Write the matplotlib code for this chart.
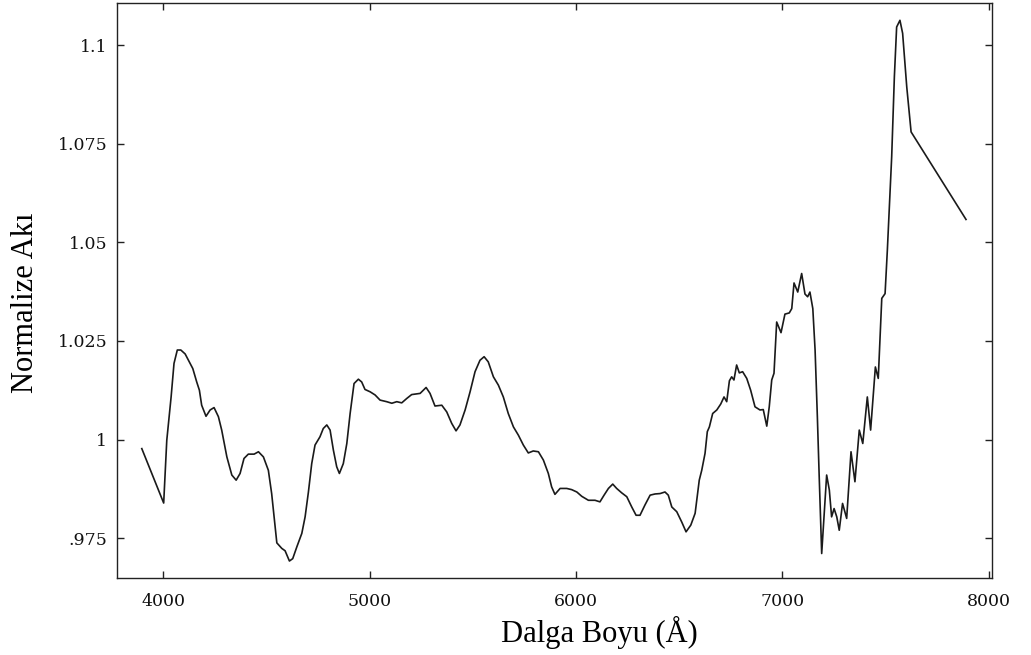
import matplotlib.pyplot as plt

# wavelength (Angstrom) and normalized flux
wave = [3897, 4003, 4018, 4039, 4053, 4069, 4086, 4107, 4127, 4144,
        4163, 4176, 4187, 4208, 4228, 4247, 4268, 4284, 4309, 4333,
        4354, 4373, 4392, 4413, 4441, 4462, 4486, 4510, 4526, 4538,
        4551, 4575, 4591, 4612, 4628, 4648, 4672, 4688, 4704, 4720,
        4736, 4760, 4776, 4793, 4809, 4825, 4841, 4854, 4873, 4890,
        4906, 4925, 4946, 4962, 4978, 5003, 5027, 5051, 5083, 5108,
        5132, 5156, 5180, 5204, 5245, 5274, 5293, 5317, 5350, 5374,
        5398, 5419, 5438, 5463, 5487, 5511, 5535, 5555, 5575, 5600,
        5624, 5648, 5672, 5697, 5721, 5745, 5769, 5793, 5818, 5842,
        5866, 5882, 5898, 5923, 5955, 5979, 6004, 6028, 6060, 6092,
        6116, 6136, 6157, 6178, 6197, 6221, 6246, 6270, 6291, 6310,
        6334, 6359, 6383, 6407, 6431, 6447, 6464, 6488, 6512, 6533,
        6556, 6577, 6597, 6609, 6625, 6636, 6646, 6662, 6682, 6701,
        6717, 6730, 6743, 6754, 6765, 6778, 6791, 6807, 6827, 6846,
        6867, 6891, 6907, 6924, 6936, 6948, 6959, 6972, 6993, 7012,
        7033, 7045, 7056, 7074, 7093, 7109, 7122, 7133, 7147, 7158,
        7169, 7178, 7190, 7201, 7214, 7227, 7238, 7250, 7263, 7275,
        7291, 7311, 7332, 7351, 7372, 7389, 7411, 7427, 7450, 7464,
        7481, 7497, 7508, 7529, 7542, 7553, 7569, 7582, 7602, 7623,
        7889]
flux = [0.9977, 0.9839, 0.9998, 1.0108, 1.0193, 1.0227, 1.0227, 1.0217, 1.0197, 1.0180,
        1.0146, 1.0125, 1.0087, 1.0059, 1.0075, 1.0081, 1.0058, 1.0024, 0.9956, 0.9910,
        0.9897, 0.9914, 0.9952, 0.9963, 0.9963, 0.9969, 0.9956, 0.9922, 0.9863, 0.9804,
        0.9738, 0.9724, 0.9718, 0.9692, 0.9698, 0.9728, 0.9762, 0.9804, 0.9867, 0.9939,
        0.9986, 1.0007, 1.0028, 1.0037, 1.0024, 0.9973, 0.9931, 0.9914, 0.9939, 0.9990,
        1.0066, 1.0142, 1.0153, 1.0146, 1.0127, 1.0121, 1.0113, 1.0100, 1.0096, 1.0092,
        1.0096, 1.0093, 1.0104, 1.0114, 1.0117, 1.0132, 1.0117, 1.0085, 1.0087, 1.0070,
        1.0041, 1.0022, 1.0037, 1.0075, 1.0121, 1.0172, 1.0201, 1.0210, 1.0197, 1.0159,
        1.0138, 1.0108, 1.0066, 1.0032, 1.0011, 0.9986, 0.9966, 0.9971, 0.9969, 0.9948,
        0.9914, 0.9880, 0.9861, 0.9876, 0.9876, 0.9873, 0.9867, 0.9856, 0.9846, 0.9846,
        0.9842, 0.9859, 0.9876, 0.9887, 0.9876, 0.9865, 0.9855, 0.9829, 0.9808, 0.9808,
        0.9834, 0.9859, 0.9862, 0.9863, 0.9867, 0.9859, 0.9829, 0.9817, 0.9791, 0.9766,
        0.9783, 0.9813, 0.9897, 0.9922, 0.9965, 1.0020, 1.0032, 1.0066, 1.0075, 1.0090,
        1.0108, 1.0096, 1.0149, 1.0159, 1.0151, 1.0189, 1.0169, 1.0172, 1.0155, 1.0125,
        1.0083, 1.0075, 1.0076, 1.0034, 1.0083, 1.0151, 1.0168, 1.0298, 1.0271, 1.0318,
        1.0321, 1.0332, 1.0397, 1.0374, 1.0421, 1.0369, 1.0362, 1.0374, 1.0332, 1.0227,
        1.0058, 0.9905, 0.9711, 0.9804, 0.9910, 0.9872, 0.9804, 0.9825, 0.9804, 0.9770,
        0.9838, 0.9800, 0.9969, 0.9893, 1.0024, 0.9990, 1.0108, 1.0024, 1.0184, 1.0155,
        1.0358, 1.0370, 1.0480, 1.0717, 1.0920, 1.1046, 1.1063, 1.1030, 1.0894, 1.0780,
        1.0558]

xticks = [4000, 5000, 6000, 7000, 8000]
yticks = [0.975, 1.0, 1.025, 1.05, 1.075, 1.1]
ytick_labels = ['.975', '1', '1.025', '1.05', '1.075', '1.1']

fig = plt.figure(figsize=(10.31, 6.55), dpi=100)
ax = fig.add_axes([0.1135, 0.1176, 0.8487, 0.8779])

ax.plot(wave, flux, color='#1a1a1a', linewidth=1.2, solid_joinstyle='round')

ax.set_xlim(3777, 8015)
ax.set_ylim(0.9649, 1.1107)
ax.set_xticks(xticks)
ax.set_xticklabels([str(t) for t in xticks], family='DejaVu Serif', fontsize=12.5)
ax.set_yticks(yticks)
ax.set_yticklabels(ytick_labels, family='DejaVu Serif', fontsize=12.5)
ax.tick_params(direction='in', length=5, width=1, top=True, right=True,
               colors='#222222', labelcolor='#111111')
ax.tick_params(axis='x', pad=11)
ax.tick_params(axis='y', pad=7)
for sp in ax.spines.values():
    sp.set_linewidth(1.0)
    sp.set_color('#222222')

ax.set_xlabel('Dalga Boyu (Å)', family='Liberation Serif', fontsize=22, va='baseline')
ax.xaxis.set_label_coords(0.551, -0.111)
ax.set_ylabel('Normalize Akı', family='Liberation Serif', fontsize=22, va='center')
ax.yaxis.set_label_coords(-0.105, 0.478)

fig.savefig('out.png', dpi=100)
